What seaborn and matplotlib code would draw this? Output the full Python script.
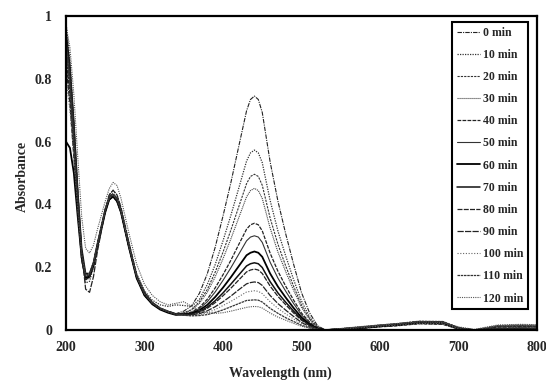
import matplotlib
matplotlib.use("Agg")
import matplotlib.pyplot as plt
import seaborn as sns
import pandas as pd

# ---------------- data ----------------
wavelength = [200, 205, 210, 215, 220, 225, 230, 235, 240, 250, 255, 260, 265, 270,
              280, 290, 300, 310, 320, 330, 340,
              350, 360, 370, 380, 390, 400, 410, 420, 430, 435, 440, 445, 450,
              460, 470, 480, 490, 500, 510, 520,
              530, 550, 580, 600, 620, 650, 680, 700, 720, 750, 780, 800]

time_labels = ["0 min", "10 min", "20 min", "30 min", "40 min", "50 min", "60 min",
               "70 min", "80 min", "90 min", "100 min", "110 min", "120 min"]

abs_0min = ([0.92, 0.80, 0.62, 0.42, 0.25, 0.175, 0.18, 0.215, 0.275, 0.385, 0.425, 0.435, 0.42, 0.385,
             0.275, 0.175, 0.12, 0.088, 0.07, 0.06, 0.052]
            + [0.060, 0.077, 0.117, 0.179, 0.263, 0.363, 0.469, 0.584, 0.698, 0.734, 0.745, 0.734, 0.693,
               0.536, 0.410, 0.305, 0.209, 0.119, 0.056, 0.015]
            + [0.0, 0.003, 0.008, 0.012, 0.015, 0.022, 0.020, 0.004, 0.0, 0.012, 0.014, 0.012])
abs_10min = ([0.98, 0.86, 0.66, 0.43, 0.24, 0.15, 0.155, 0.20, 0.265, 0.38, 0.43, 0.445, 0.43, 0.39,
              0.28, 0.18, 0.125, 0.095, 0.08, 0.075, 0.08]
             + [0.078, 0.075, 0.098, 0.145, 0.208, 0.284, 0.365, 0.451, 0.538, 0.564, 0.573, 0.564, 0.533,
                0.413, 0.315, 0.235, 0.160, 0.092, 0.043, 0.011]
             + [0.0, 0.004, 0.010, 0.014, 0.018, 0.025, 0.024, 0.006, 0.0, 0.014, 0.016, 0.015])
abs_20min = ([0.88, 0.76, 0.58, 0.39, 0.235, 0.165, 0.17, 0.205, 0.265, 0.375, 0.415, 0.425, 0.41, 0.375,
              0.265, 0.165, 0.11, 0.082, 0.066, 0.056, 0.049]
             + [0.055, 0.065, 0.090, 0.129, 0.184, 0.248, 0.318, 0.392, 0.466, 0.489, 0.496, 0.489, 0.461,
                0.357, 0.273, 0.203, 0.139, 0.079, 0.037, 0.010]
             + [0.0, 0.002, 0.007, 0.011, 0.014, 0.020, 0.019, 0.003, 0.0, 0.010, 0.012, 0.011])
abs_30min = ([0.94, 0.82, 0.63, 0.41, 0.23, 0.16, 0.165, 0.205, 0.27, 0.385, 0.425, 0.435, 0.42, 0.385,
              0.27, 0.17, 0.115, 0.085, 0.068, 0.058, 0.05]
             + [0.054, 0.063, 0.085, 0.120, 0.169, 0.227, 0.290, 0.357, 0.424, 0.444, 0.451, 0.444, 0.419,
                0.325, 0.248, 0.185, 0.126, 0.072, 0.034, 0.009]
             + [0.0, 0.003, 0.009, 0.013, 0.017, 0.024, 0.022, 0.005, 0.0, 0.013, 0.015, 0.013])
abs_40min = ([0.86, 0.75, 0.58, 0.39, 0.235, 0.17, 0.175, 0.21, 0.27, 0.38, 0.415, 0.425, 0.41, 0.375,
              0.265, 0.168, 0.113, 0.084, 0.067, 0.057, 0.05]
             + [0.052, 0.057, 0.072, 0.098, 0.134, 0.176, 0.222, 0.272, 0.321, 0.335, 0.340, 0.335, 0.316,
                0.245, 0.187, 0.139, 0.095, 0.054, 0.026, 0.007]
             + [0.0, 0.002, 0.006, 0.010, 0.013, 0.020, 0.018, 0.003, 0.0, 0.009, 0.011, 0.010])
abs_50min = ([0.90, 0.78, 0.60, 0.40, 0.24, 0.168, 0.172, 0.208, 0.268, 0.378, 0.418, 0.428, 0.413, 0.378,
              0.268, 0.168, 0.114, 0.084, 0.067, 0.057, 0.05]
             + [0.051, 0.055, 0.068, 0.090, 0.121, 0.158, 0.198, 0.241, 0.284, 0.296, 0.300, 0.296, 0.279,
                0.216, 0.165, 0.123, 0.084, 0.048, 0.023, 0.006]
             + [0.0, 0.003, 0.008, 0.012, 0.016, 0.023, 0.021, 0.004, 0.0, 0.012, 0.013, 0.012])
abs_60min = ([0.60, 0.58, 0.50, 0.36, 0.23, 0.165, 0.17, 0.205, 0.265, 0.375, 0.415, 0.425, 0.41, 0.375,
              0.265, 0.165, 0.11, 0.082, 0.065, 0.055, 0.048]
             + [0.050, 0.053, 0.063, 0.080, 0.105, 0.135, 0.168, 0.203, 0.238, 0.246, 0.250, 0.246, 0.233,
                0.180, 0.138, 0.103, 0.070, 0.040, 0.019, 0.005]
             + [0.0, 0.002, 0.007, 0.012, 0.016, 0.024, 0.023, 0.005, 0.0, 0.003, 0.004, 0.004])
abs_70min = ([0.95, 0.84, 0.66, 0.44, 0.26, 0.18, 0.18, 0.215, 0.275, 0.385, 0.42, 0.43, 0.415, 0.38,
              0.27, 0.17, 0.115, 0.086, 0.068, 0.058, 0.05]
             + [0.049, 0.051, 0.059, 0.073, 0.093, 0.118, 0.146, 0.175, 0.204, 0.211, 0.214, 0.211, 0.199,
                0.154, 0.118, 0.088, 0.060, 0.034, 0.016, 0.004]
             + [0.0, 0.003, 0.009, 0.014, 0.018, 0.026, 0.025, 0.006, 0.0, 0.004, 0.005, 0.004])
abs_80min = ([0.84, 0.72, 0.55, 0.37, 0.22, 0.16, 0.168, 0.205, 0.268, 0.38, 0.42, 0.43, 0.415, 0.38,
              0.27, 0.17, 0.115, 0.085, 0.068, 0.058, 0.05]
             + [0.049, 0.050, 0.056, 0.069, 0.087, 0.109, 0.133, 0.159, 0.185, 0.191, 0.194, 0.191, 0.180,
                0.140, 0.107, 0.080, 0.054, 0.031, 0.015, 0.004]
             + [0.0, 0.002, 0.008, 0.013, 0.017, 0.025, 0.024, 0.005, 0.0, 0.003, 0.004, 0.003])
abs_90min = ([0.93, 0.83, 0.66, 0.45, 0.25, 0.13, 0.12, 0.17, 0.25, 0.38, 0.43, 0.445, 0.43, 0.39,
              0.28, 0.175, 0.12, 0.088, 0.07, 0.06, 0.052]
             + [0.048, 0.048, 0.052, 0.061, 0.074, 0.090, 0.108, 0.128, 0.147, 0.151, 0.153, 0.151, 0.142,
                0.110, 0.084, 0.063, 0.043, 0.024, 0.011, 0.003]
             + [0.0, 0.004, 0.010, 0.015, 0.019, 0.027, 0.026, 0.007, 0.0, 0.005, 0.006, 0.005])
abs_100min = ([0.80, 0.70, 0.56, 0.39, 0.24, 0.175, 0.18, 0.215, 0.275, 0.385, 0.42, 0.43, 0.415, 0.38,
               0.27, 0.17, 0.115, 0.085, 0.068, 0.058, 0.05]
              + [0.047, 0.046, 0.049, 0.055, 0.065, 0.078, 0.091, 0.106, 0.121, 0.123, 0.125, 0.123, 0.116,
                 0.090, 0.069, 0.051, 0.035, 0.020, 0.009, 0.003]
              + [0.0, 0.003, 0.008, 0.012, 0.015, 0.021, 0.020, 0.004, 0.0, 0.014, 0.016, 0.015])
abs_110min = ([0.91, 0.79, 0.61, 0.41, 0.245, 0.172, 0.176, 0.212, 0.272, 0.382, 0.422, 0.432, 0.417, 0.382,
               0.272, 0.172, 0.116, 0.086, 0.069, 0.059, 0.05]
              + [0.047, 0.045, 0.046, 0.049, 0.056, 0.064, 0.074, 0.084, 0.094, 0.095, 0.096, 0.095, 0.089,
                 0.069, 0.053, 0.039, 0.027, 0.015, 0.007, 0.002]
              + [0.0, 0.004, 0.011, 0.016, 0.020, 0.028, 0.027, 0.008, 0.0, 0.006, 0.007, 0.006])
abs_120min = ([0.97, 0.90, 0.75, 0.55, 0.36, 0.26, 0.245, 0.27, 0.32, 0.41, 0.45, 0.47, 0.46, 0.42,
               0.31, 0.21, 0.145, 0.11, 0.09, 0.08, 0.085]
              + [0.090, 0.075, 0.062, 0.055, 0.053, 0.055, 0.060, 0.066, 0.072, 0.074, 0.075, 0.074, 0.070,
                 0.054, 0.041, 0.031, 0.021, 0.012, 0.006, 0.002]
              + [0.0, 0.005, 0.012, 0.016, 0.020, 0.026, 0.024, 0.010, 0.002, 0.016, 0.018, 0.017])

spectra = [abs_0min, abs_10min, abs_20min, abs_30min, abs_40min, abs_50min, abs_60min,
           abs_70min, abs_80min, abs_90min, abs_100min, abs_110min, abs_120min]

x_ticks = [200, 300, 400, 500, 600, 700, 800]
y_ticks = [0, 0.2, 0.4, 0.6, 0.8, 1.0]
y_tick_labels = ["0", "0.2", "0.4", "0.6", "0.8", "1"]

# ---------------- styling ----------------
line_styles = [
    ((0, (4, 1, 1, 1)), 0.8, "#222222"),
    ((0, (1, 1)), 0.9, "#333333"),
    ((0, (2, 1)), 0.8, "#333333"),
    ((0, (1, 0.8)), 0.8, "#444444"),
    ((0, (3, 1)), 0.9, "#222222"),
    ("-", 0.8, "#333333"),
    ("-", 1.3, "#000000"),
    ("-", 1.1, "#111111"),
    ((0, (4, 1)), 0.9, "#222222"),
    ((0, (5, 1)), 0.9, "#222222"),
    ((0, (1, 1.5)), 0.8, "#666666"),
    ((0, (2, 0.6)), 0.9, "#333333"),
    ((0, (1, 1)), 0.8, "#555555"),
]

sns.set_style("white")
plt.rcParams["font.family"] = ["Liberation Serif", "DejaVu Serif"]
plt.rcParams["font.weight"] = "bold"

fig = plt.figure(figsize=(5.46, 3.83), dpi=100)
ax = fig.add_axes([66 / 546, 1 - 330 / 383, 471 / 546, 314 / 383])

for lab, vals, (ls, lw, col) in zip(time_labels, spectra, line_styles):
    df = pd.DataFrame({"Wavelength": wavelength, "Absorbance": vals})
    sns.lineplot(data=df, x="Wavelength", y="Absorbance", ax=ax, label=lab,
                 color=col, linestyle=ls, linewidth=lw, sort=False, errorbar=None)

ax.set_xlim(200, 800)
ax.set_ylim(0, 1)
ax.set_xticks(x_ticks)
ax.set_xticklabels([str(t) for t in x_ticks], fontsize=10, fontweight="bold")
ax.set_yticks(y_ticks)
ax.set_yticklabels(y_tick_labels, fontsize=10, fontweight="bold")
ax.tick_params(axis="both", direction="in", length=3, width=1, color="black")
ax.tick_params(axis="x", pad=8)
ax.tick_params(axis="y", pad=10)

for sp in ax.spines.values():
    sp.set_visible(True)
    sp.set_color("black")
    sp.set_linewidth(1.6)

ax.set_xlabel("Wavelength (nm)", fontsize=10, fontweight="bold")
ax.set_ylabel("Absorbance", fontsize=10, fontweight="bold")
ax.xaxis.set_label_coords(0.455, -0.115)
ax.yaxis.set_label_coords(-0.078, 0.49)

leg = ax.legend(loc="upper right", bbox_to_anchor=(0.981, 0.981), borderaxespad=0,
                frameon=True, fancybox=False, edgecolor="black", framealpha=1,
                fontsize=8.5, handlelength=2.0, handletextpad=0.2,
                labelspacing=0.86, borderpad=0.4)
leg.get_frame().set_linewidth(1.5)
for t in leg.get_texts():
    t.set_fontweight("bold")

fig.savefig("out.png", dpi=100)
